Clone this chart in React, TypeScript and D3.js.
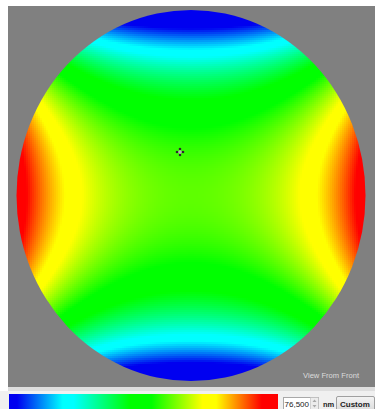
import React, { useEffect, useRef } from "react";
import * as d3 from "d3";

// Wavefront surface terms over the unit aperture (u = horizontal, w = vertical)
const termNames = ["piston", "u2", "u4", "w2", "w4"];
const termWeights = [0.6, 0.25, 0.15, -0.5, -0.25];

// Colour ramp of the height scale
const rampStops = [0, 0.03, 0.2, 0.24, 0.45, 0.53, 0.72, 0.77, 0.94, 1];
const rampColors = [
  "#0000f0", "#0000f0", "#00ffff", "#00ffff", "#00ff00",
  "#00ff00", "#ffff00", "#ffff00", "#ff0000", "#ff0000",
];

// Peak-to-valley readout
const pvValue = ["76,500"];
const pvUnit = ["nm"];
const scaleMode = ["Custom"];
const viewLabel = ["View From Front"];

const W = 375;
const H = 409;
const CELL = 2;

function surface(u: number, w: number) {
  const basis = [1, u * u, u ** 4, w * w, w ** 4];
  return d3.sum(termNames.map((_, i) => termWeights[i] * basis[i]));
}

export default function App() {
  const mapRef = useRef<SVGGElement | null>(null);

  const cx = 191;
  const cy = 195.5;
  const rx = 174.5;
  const ry = 185.5;

  const color = d3.scaleLinear<string>().domain(rampStops).range(rampColors).clamp(true);
  const nx = d3.scaleLinear().domain([cx - rx, cx + rx]).range([-1, 1]);
  const ny = d3.scaleLinear().domain([cy - ry, cy + ry]).range([-1, 1]);

  useEffect(() => {
    const g = d3.select(mapRef.current);
    g.selectAll("*").remove();
    const cells: { x: number; y: number; v: number }[] = [];
    for (let y = Math.floor(cy - ry); y < cy + ry; y += CELL) {
      for (let x = Math.floor(cx - rx); x < cx + rx; x += CELL) {
        const u = nx(x + CELL / 2);
        const w = ny(y + CELL / 2);
        if (u * u + w * w > 1.04) continue;
        cells.push({ x, y, v: surface(u, w) });
      }
    }
    g.selectAll("rect")
      .data(cells)
      .join("rect")
      .attr("x", (d) => d.x)
      .attr("y", (d) => d.y)
      .attr("width", CELL + 0.3)
      .attr("height", CELL + 0.3)
      .attr("fill", (d) => color(d.v))
      .attr("shape-rendering", "crispEdges");
  }, []);

  const barX0 = 9;
  const barX1 = 278;

  return (
    <svg
      width={W}
      height={H}
      style={{ position: "absolute", left: 0, top: 0, fontFamily: "'Liberation Sans', Arial, sans-serif" }}
    >
      <defs>
        <clipPath id="aperture">
          <ellipse cx={cx} cy={cy} rx={rx} ry={ry} />
        </clipPath>
        <linearGradient id="ramp" x1="0" x2="1" y1="0" y2="0">
          {rampStops.map((s, i) => (
            <stop key={i} offset={s} stopColor={rampColors[i]} />
          ))}
        </linearGradient>
        <linearGradient id="btn" x1="0" x2="0" y1="0" y2="1">
          <stop offset="0" stopColor="#f4f4f4" />
          <stop offset="1" stopColor="#dcdcdc" />
        </linearGradient>
      </defs>
      <rect x={0} y={0} width={W} height={H} fill="#ffffff" />
      <rect x={8} y={6} width={W - 8} height={381} fill="#808080" />
      <g clipPath="url(#aperture)" ref={mapRef} />

      {/* centre marker */}
      <g transform="translate(180,152)">
        <path d="M-4,0H4M0,-4V4" stroke="#b8b8b8" strokeWidth={1.6} />
        {[[-3, 0], [3, 0], [0, -3], [0, 3]].map(([dx, dy], i) => (
          <circle key={i} cx={dx} cy={dy} r={1.3} fill="#2a2a2a" />
        ))}
      </g>

      <text x={359} y={378} fontSize={7.6} fill="#dcdcdc" textAnchor="end">
        {viewLabel[0]}
      </text>

      {/* lower control strip */}
      <rect x={8} y={387} width={W - 8} height={4} fill="#dedede" />
      <rect x={0} y={391} width={W} height={H - 391} fill="#f0f0f0" />
      <rect x={barX0} y={394} width={barX1 - barX0} height={H - 394} fill="url(#ramp)" />

      <rect x={283.5} y={397.5} width={35} height={12} fill="#ffffff" stroke="#a8a8a8" />
      <text x={309} y={407} fontSize={8} fill="#222" textAnchor="end">
        {pvValue[0]}
      </text>
      <rect x={310.5} y={397.5} width={8} height={12} fill="#ececec" stroke="#bbb" strokeWidth={0.6} />
      <path d="M312.5,402L314.5,399.5L316.5,402Z M312.5,405L314.5,407.5L316.5,405Z" fill="#aaa" />
      <text x={323} y={407} fontSize={7.5} fontWeight="bold" fill="#222">
        {pvUnit[0]}
      </text>
      <rect x={336.5} y={396.5} width={38} height={14} rx={1.5} fill="url(#btn)" stroke="#a0a0a0" />
      <text x={340} y={407} fontSize={8} fontWeight="bold" fill="#222">
        {scaleMode[0]}
      </text>
    </svg>
  );
}
